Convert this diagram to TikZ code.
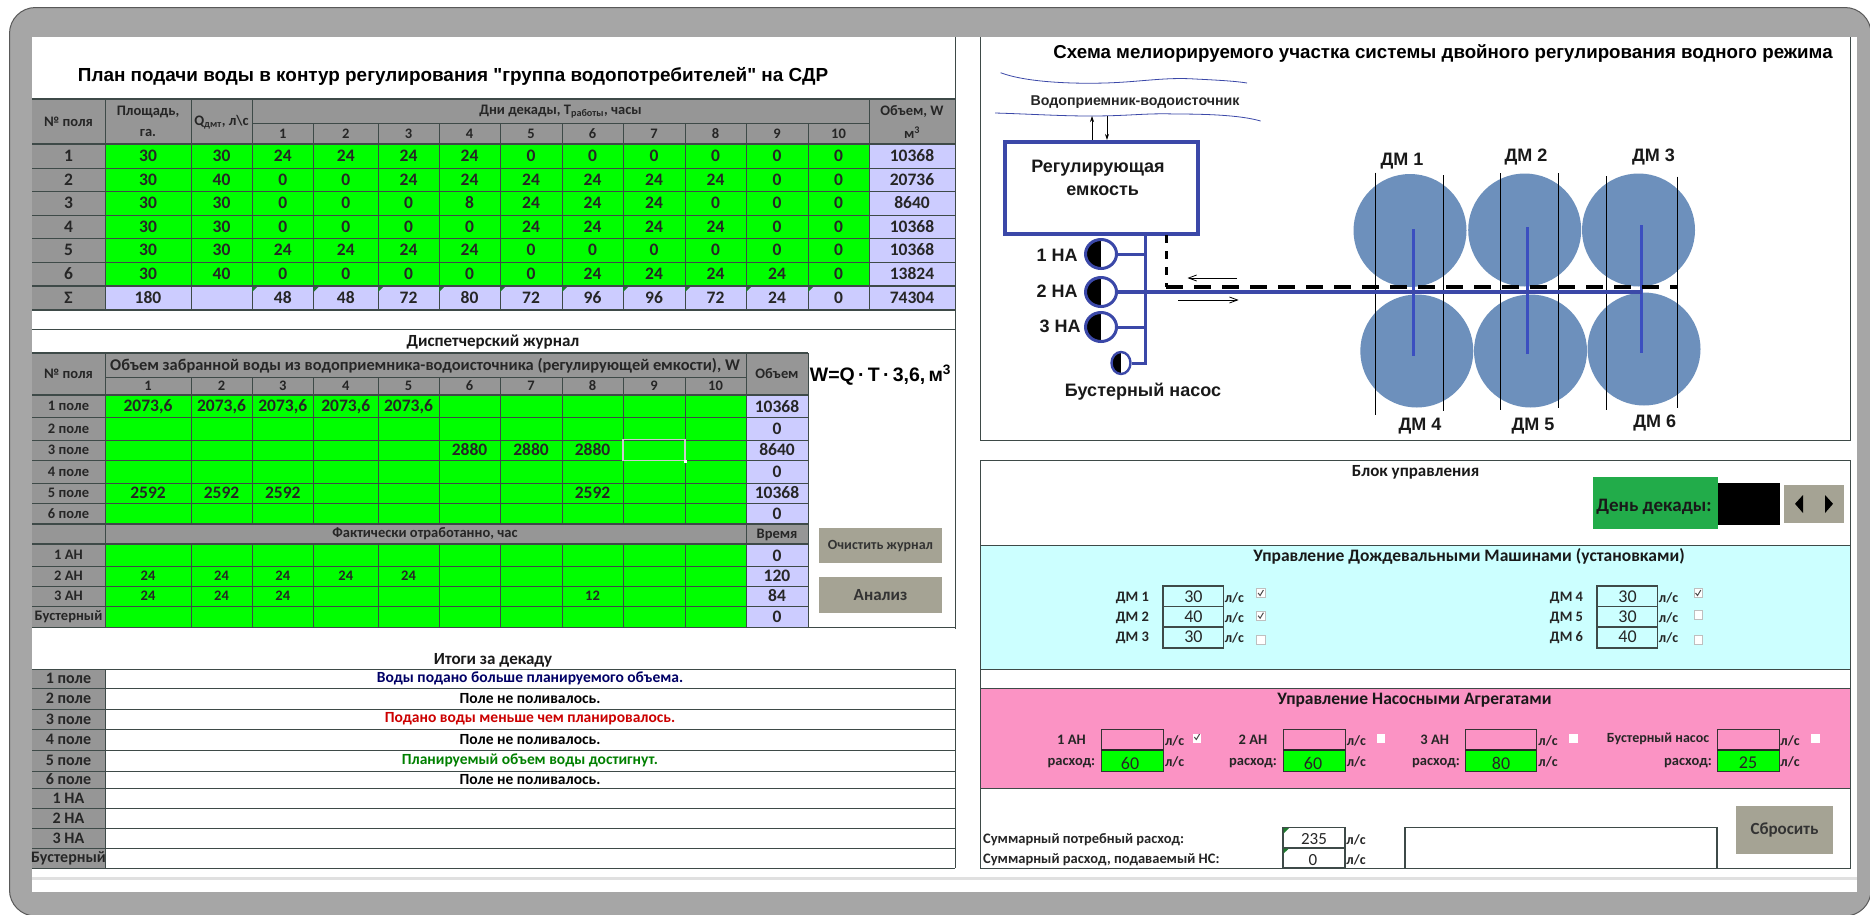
\documentclass[tikz,border=0pt]{standalone}
\usepackage{fontspec}
\setmainfont{Liberation Sans}
\newfontfamily\arq{Liberation Sans}
\newfontfamily\calib{Carlito}
\usetikzlibrary{arrows.meta,shapes.geometric}
\definecolor{frame}{HTML}{A6A6A6}
\definecolor{hdr}{HTML}{969696}
\definecolor{lav}{HTML}{CCCCFF}
\definecolor{grn}{HTML}{00FF00}
\definecolor{gline}{HTML}{3E4A48}
\definecolor{btn}{HTML}{A5A394}
\definecolor{blu}{HTML}{3B48A8}
\definecolor{blu2}{HTML}{3B4FC0}
\definecolor{disc}{HTML}{6D90BC}
\definecolor{cyanbg}{HTML}{CCFFFF}
\definecolor{pinkbg}{HTML}{FB93C4}
\definecolor{okgreen}{HTML}{22AC4A}
\definecolor{tri}{HTML}{1F7A2F}
\newcommand\fsz[1]{\fontsize{#1}{#1}\selectfont}
\tikzset{
  tc/.style={font=\calib\bfseries\fsz{17.5},inner sep=0pt,text=black!85},
  hc/.style={font=\calib\bfseries\fsz{14.5},inner sep=0pt,text=black!85},
  sc/.style={font=\calib\bfseries\fsz{14},inner sep=0pt,text=black!85},
  ar/.style={font=\bfseries\fsz{18},inner sep=0pt,text=black!90},
  capt/.style={font=\calib\bfseries\fsz{17},inner sep=0pt,text=black!90},
  gl/.style={draw=gline,line width=1pt},
  glb/.style={draw=gline,line width=1.8pt},
  pipe/.style={draw=blu,line width=3pt},
  btnbox/.style={fill=btn,draw=none},
  pump/.style={shape=ellipse,draw=blu,line width=3pt,fill=white,inner sep=0pt,minimum width=31pt,minimum height=29pt,
    path picture={\fill[black] (path picture bounding box.south west) rectangle (path picture bounding box.north);}},
  booster/.style={pump,line width=2.4pt,minimum width=19pt,minimum height=22pt},
  wave/.style={draw=blu,line width=.8pt},
  disk/.style={circle,fill=disc,inner sep=0pt,minimum size=113pt},
  chk/.style={fill=white,draw=black!25,line width=.4pt,minimum width=8.5pt,minimum height=9pt,inner sep=0pt},
  inbox/.style={draw=gline,line width=1.1pt},
}
\newcommand\chkmark[2]{\draw[black!70,line width=1pt] (#1-2.5,#2) -- (#1-.5,#2+2.5) -- (#1+2.8,#2-3);}
\begin{document}
\begin{tikzpicture}[x=1pt,y=-1pt]
\useasboundingbox (0,0) rectangle (1870,914);
\fill[white] (0,0) rectangle (1870,914);
\begin{scope}
\clip (0,0) rectangle (1870,914);
\fill[frame,draw=black!65,line width=1pt,rounded corners=26pt] (9.5,7.5) rectangle (1871,916);
\end{scope}
\fill[white] (32,37) rectangle (1857,892);
\fill[black!12] (32,877) rectangle (1857,880);
% ---------- table 1
\node[font=\arq\bfseries\fsz{18.9},inner sep=0pt] (title1) at (453,76) {План подачи воды в контур регулирования "группа водопотребителей" на СДР};
\fill[hdr] (32,99) rectangle (955,144);
\fill[hdr] (32,144) rectangle (105,310);
\fill[grn] (105,144) rectangle (869,286);
\fill[lav] (869,144) rectangle (955,310);
\fill[lav] (105,286) rectangle (869,310);
\foreach \x in {105,191,252,869} \draw[gl] (\x,99) -- (\x,310);
\foreach \x in {313.5,378,439,500,562,623,685,746,808} \draw[gl] (\x,123) -- (\x,310);
\foreach \y in {168,191,215,238,262} \draw[gl] (32,\y) -- (955,\y);
\foreach \y in {99,144,286,310} \draw[glb] (32,\y) -- (955,\y);
\draw[gl] (252,123) -- (869,123);
\def\XA{{68.5,148,221.5,282.75,345.75,408.5,469.5,531,592.5,654,715.5,777,838.5,912}}
\node[hc] (th1) at (68.5,121.5) {№ поля};
\node[hc] (th2) at (148,112) {Площадь,};
\node[hc] (th2b) at (148,133) {га.};
\node[hc] (th3) at (221.5,122) {Q\textsubscript{дмт}, л\textbackslash с};
\node[hc] (th4) at (560.5,111.5) {Дни декады, T\textsubscript{работы}, часы};
\node[hc] (th5) at (912,111.5) {Объем, W};
\node[hc] (th5b) at (912,133) {м\textsuperscript{3}};
\foreach \c in {1,...,10} {
  \pgfmathsetmacro\cx{\XA[\c+2]}
  \node[hc] (td\c) at (\cx,134) {\c};
}
\foreach \r/\yc/\vals in {
 1/156/{30,30,24,24,24,24,0,0,0,0,0,0,10368},
 2/179.5/{30,40,0,0,24,24,24,24,24,24,0,0,20736},
 3/203/{30,30,0,0,0,8,24,24,24,0,0,0,8640},
 4/226.5/{30,30,0,0,0,0,24,24,24,24,0,0,10368},
 5/250/{30,30,24,24,24,24,0,0,0,0,0,0,10368},
 6/274/{30,40,0,0,0,0,0,24,24,24,24,0,13824},
 7/298/{180,,48,48,72,80,72,96,96,72,24,0,74304}} {
  \foreach \v [count=\i] in \vals {
    \pgfmathsetmacro\cx{\XA[\i]}
    \node[tc] (a\r-\i) at (\cx,\yc) {\v};
  }
}
\foreach \r/\yc in {1/156,2/179.5,3/203,4/226.5,5/250,6/274} \node[tc] (aL\r) at (68.5,\yc) {\r};
\node[tc] (aLs) at (68.5,298) {Σ};
\foreach \x in {252,313.5,378,439,500,562,623,685,746,808} \fill[tri] (\x,287) -- (\x+5,287) -- (\x,292) -- cycle;
% ---------- journal
\draw[glb] (32,329.5) -- (955,329.5);
\draw[gl] (955,37) -- (955,629);
\draw[gl] (32,627) -- (955,627);
\node[capt] (title2) at (493,342) {Диспетчерский журнал};
\fill[hdr] (32,353) rectangle (808,395);
\fill[hdr] (32,395) rectangle (105,627);
\fill[grn] (105,395) rectangle (746,524);
\fill[hdr] (105,524) rectangle (808,544);
\fill[grn] (105,544) rectangle (746,627);
\fill[lav] (746,395) rectangle (808,524);
\fill[lav] (746,544) rectangle (808,627);
\foreach \x in {105,746,808} \draw[gl] (\x,353) -- (\x,627);
\foreach \x in {191,252,313.5,378,439,500,562,623,685} {\draw[gl] (\x,377) -- (\x,524); \draw[gl] (\x,544) -- (\x,627);}
\foreach \y in {417,440,460,483,503,566,586,606} \draw[gl] (32,\y) -- (808,\y);
\foreach \y in {353,395,524,544} \draw[glb] (32,\y) -- (808,\y);
\draw[gl] (105,377) -- (746,377);
\draw[draw=black!20,line width=1.6pt] (623,439.5) rectangle (685,460.5);
\fill[white] (684,459.5) rectangle (687,462.5);
\def\XB{{68.5,148,221.5,282.75,345.75,408.5,469.5,531,592.5,654,715.5,777}}
\node[hc] (jh0) at (68.5,374) {№ поля};
\node[hc,font=\calib\bfseries\fsz{16.4}] (jh1) at (425,366) {Объем забранной воды из водоприемника-водоисточника (регулирующей емкости), W};
\node[hc] (jh2) at (777,374) {Объем};
\foreach \c in {1,...,10} {
  \pgfmathsetmacro\cx{\XB[\c]}
  \node[hc] (jd\c) at (\cx,386) {\c};
}
\foreach \r/\yc in {1/406,2/428.5,3/450,4/471.5,5/493,6/513.5} \node[hc] (jl\r) at (68.5,\yc) {\r\ поле};
\foreach \n/\t/\yc in {1/1 АН/555,2/2 АН/576,3/3 АН/596,4/Бустерный/616.5} \node[hc] (jn\n) at (68.5,\yc) {\t};
\node[hc] (jf) at (425,534) {Фактически отработанно, час};
\node[hc] (jt) at (777,535) {Время};
\foreach \c/\v in {1/{2073,6},2/{2073,6},3/{2073,6},4/{2073,6},5/{2073,6}} {
  \pgfmathsetmacro\cx{\XB[\c]}
  \node[tc] (j1-\c) at (\cx,407) {\v};
}
\foreach \c/\v in {6/2880,7/2880,8/2880} {
  \pgfmathsetmacro\cx{\XB[\c]}
  \node[tc] (j3-\c) at (\cx,449.5) {\v};
}
\foreach \c/\v in {1/2592,2/2592,3/2592,8/2592} {
  \pgfmathsetmacro\cx{\XB[\c]}
  \node[tc] (j5-\c) at (\cx,493) {\v};
}
\foreach \c/\v in {1/24,2/24,3/24,4/24,5/24} {
  \pgfmathsetmacro\cx{\XB[\c]}
  \node[hc] (h2-\c) at (\cx,576) {\v};
}
\foreach \c/\v in {1/24,2/24,3/24,8/12} {
  \pgfmathsetmacro\cx{\XB[\c]}
  \node[hc] (h3-\c) at (\cx,596) {\v};
}
\foreach \n/\v/\yc in {1/10368/407,2/0/429,3/8640/450,4/0/472,5/10368/493,6/0/514,7/0/556,8/120/576,9/84/596,10/0/617}
  \node[tc] (jv\n) at (777,\yc) {\v};
\node[font=\bfseries\fsz{19.5},inner sep=0pt] (formula) at (880.5,375) {W=Q\,·\,T\,·\,3,6,\,м\textsuperscript{3}};
\node[btnbox,minimum width=123pt,minimum height=35pt,inner sep=0pt,font=\calib\bfseries\fsz{14},text=black!80] (bclr) at (880.5,545.5) {Очистить журнал};
\node[btnbox,minimum width=123pt,minimum height=36pt,inner sep=0pt,font=\calib\bfseries\fsz{17},text=black!80] (bana) at (880.5,595) {Анализ};
% ---------- results
\node[capt] (title3) at (493,660) {Итоги за декаду};
\fill[hdr] (32,669) rectangle (105,868);
\foreach \y in {669,688,709,729,750,771,788,808,828,848,868} \draw[gl] (32,\y) -- (955,\y);
\draw[gl] (105,669) -- (105,868);
\draw[gl] (955,669) -- (955,868);
\foreach \n/\t/\yc in {1/1 поле/678.5,2/2 поле/698.5,3/3 поле/719,4/4 поле/739.5,5/5 поле/760.5,6/6 поле/779.5,7/1 НА/798,8/2 НА/818,9/3 НА/838,10/Бустерный/858}
  \node[tc,font=\calib\bfseries\fsz{16}] (rl\n) at (68.5,\yc) {\t};
\foreach \n/\t/\col/\yc in {1/Воды подано больше планируемого объема./blue!40!black/678.5,
  2/Поле не поливалось./black/698.5,
  3/Подано воды меньше чем планировалось./red!80!black/719,
  4/Поле не поливалось./black/739.5,
  5/Планируемый объем воды достигнут./green!50!black/760.5,
  6/Поле не поливалось./black/779.5}
  \node[tc,font=\calib\bfseries\fsz{15.5},text=\col] (rt\n) at (530,\yc) {\t};
% ---------- scheme
\draw[gl] (980,37) -- (980,440) -- (1850,440) -- (1850,37);
\node[font=\bfseries\fsz{18.7},inner sep=0pt] (title4) at (1443,53) {Схема мелиорируемого участка системы двойного регулирования водного режима};
\draw[wave] (1000.6,72.7) .. controls (1025,82) and (1070,84) .. (1105,83) .. controls (1140,82) and (1165,77) .. (1195,79) .. controls (1215,80) and (1235,81) .. (1247,83);
\draw[wave] (995,113) .. controls (1030,114) and (1060,116) .. (1090,116) .. controls (1130,116) and (1145,113) .. (1175,114) .. controls (1205,114) and (1240,115) .. (1260.6,121);
\node[font=\bfseries\fsz{14.2},inner sep=0pt,text=black!85] (lsrc) at (1135,102) {Водоприемник-водоисточник};
\node[draw=blu,line width=4.2pt,fill=white,minimum width=193pt,minimum height=92pt,inner sep=0pt] (tank) at (1101.25,188) {};
\node[ar] (tank1) at (1098,168.5) {Регулирующая};
\node[ar] (tank2) at (1102.7,191) {емкость};
\coordinate (srcU) at (1092,116);
\coordinate (srcD) at (1107,116);
\draw[-{Stealth[length=6pt,width=4pt]},line width=.7pt] (tank.north -| srcU) -- (srcU);
\draw[-{Stealth[length=6pt,width=4pt]},line width=.7pt] (srcD) -- (tank.north -| srcD);
% discs
\foreach \n/\x/\y in {1/1410/230.5,2/1524.7/230,3/1638.5/230,4/1416.8/351,5/1530.5/351,6/1644/349}
  \node[disk] (dm\n) at (\x,\y) {};
\foreach \x/\a/\b in {1375.5/172.7/415,1443.5/175/410.7,1500/173/410,1558/173/408,1606/176/410,1677/176.7/407.7}
  \draw[black,line width=.9pt] (\x,\a) -- (\x,\b);
\foreach \x/\a/\b in {1413/229/356,1527/227/354,1641/225/352.7}
  \draw[blu2,line width=3pt] (\x,\a) -- (\x,\b);
% pumps
\node[pump] (p1) at (1101,254) {};
\node[pump] (p2) at (1101,292) {};
\node[pump] (p3) at (1101,327) {};
\node[booster] (p4) at (1121,363) {};
\coordinate (pipeT) at (1145.7,235);
\coordinate (pipeB) at (1145.7,363);
\coordinate (lineEnd) at (1642,292);
\draw[pipe] (tank.south -| pipeT) -- (pipeB) -- (p4.east);
\draw[pipe] (p1.east) -- (p1.east -| pipeT);
\draw[pipe] (p3.east) -- (p3.east -| pipeT);
\draw[blu,line width=3.8pt] (p2.east) -- (lineEnd);
\coordinate (dashT) at (1166,235);
\coordinate (dashC) at (1166,287);
\coordinate (dashE) at (1677,287);
\draw[black,line width=3pt,dash pattern=on 8pt off 8pt] (dashT) -- (dashC);
\draw[black,line width=4pt,dash pattern=on 17pt off 11pt] (dashC) -- (dashE);
\coordinate (a1s) at (1237,278); \coordinate (a1e) at (1187.5,278);
\coordinate (a2s) at (1178,300); \coordinate (a2e) at (1238.6,300);
\draw[-{Straight Barb[length=8pt,width=6pt]},line width=.8pt] (a1s) -- (a1e);
\draw[-{Straight Barb[length=8pt,width=6pt]},line width=.8pt] (a2s) -- (a2e);
\node[ar] (lp1) at (1057,255) {1 НА};
\node[ar] (lp2) at (1057,291.7) {2 НА};
\node[ar] (lp3) at (1060,326.7) {3 НА};
\node[ar] (lp4) at (1143,392) {Бустерный насос};
\foreach \n/\t/\x/\y in {1/ДМ 1/1402/160.7,2/ДМ 2/1526/156.7,3/ДМ 3/1653.5/156.7,4/ДМ 4/1420/425.7,5/ДМ 5/1533/425.7,6/ДМ 6/1654.7/422.7}
  \node[ar] (ldm\n) at (\x,\y) {\t};
% ---------- control block
\fill[cyanbg] (980,545) rectangle (1850,669);
\fill[pinkbg] (980,688) rectangle (1850,788);
\draw[gl] (980,460) rectangle (1850,868);
\foreach \y in {545,669,688,788} \draw[gl] (980,\y) -- (1850,\y);
\node[capt] (title5) at (1415.6,472.7) {Блок управления};
\fill[okgreen] (1592.6,476.7) rectangle (1718,529);
\node[capt,font=\calib\bfseries\fsz{19}] (lday) at (1654,506.7) {День декады:};
\fill[black] (1718,482.7) rectangle (1780,525);
\node[btnbox,minimum width=29.5pt,minimum height=37.5pt,inner sep=0pt] (spinL) at (1799,503.8) {};
\node[btnbox,minimum width=29.5pt,minimum height=37.5pt,inner sep=0pt] (spinR) at (1829,503.8) {};
\fill[black] (1795,503.8) -- (1803,495) -- (1803,513) -- cycle;
\fill[black] (1833,503.8) -- (1825,495) -- (1825,513) -- cycle;
\node[capt,font=\calib\fsz{17.5}\bfseries] (title6) at (1469,556.7) {Управление Дождевальными Машинами (установками)};
\foreach \x in {1163,1597} {
  \draw[inbox] (\x,586) rectangle (\x+60.5,648);
  \draw[inbox] (\x,606.7) -- (\x+60.5,606.7);
  \draw[inbox] (\x,627) -- (\x+60.5,627);
}
\foreach \n/\t/\v/\x/\y in {1/ДМ 1/30/1132.4/597,2/ДМ 2/40/1132.4/617,3/ДМ 3/30/1132.4/637,4/ДМ 4/30/1566.5/597,5/ДМ 5/30/1566.5/617,6/ДМ 6/40/1566.5/637} {
  \node[hc] (cl\n) at (\x,\y+1) {\t};
  \node[tc,font=\calib\fsz{18}] (cv\n) at (\x+61,\y) {\v};
  \node[sc] (cu\n) at (\x+102,\y+1) {л/с};
}
\foreach \n/\x/\y in {1/1260.6/593,2/1260.6/615.7,3/1260.6/640,4/1698/593,5/1698/615,6/1698/640}
  \node[chk] (cb\n) at (\x,\y) {};
\chkmark{1260.6}{593}\chkmark{1260.6}{615.7}\chkmark{1698}{593}
\node[capt,font=\calib\fsz{17.5}\bfseries] (title7) at (1414.4,700) {Управление Насосными Агрегатами};
\foreach \n/\a/\b in {1/1101/1163,2/1283/1345,3/1465/1536,4/1717/1779.5} {
  \fill[grn] (\a,750) rectangle (\b,771.7);
  \draw[draw=black!80,line width=1pt] (\a,729) rectangle (\b,771.7);
  \draw[draw=black!85,line width=1.6pt] (\a,750) -- (\b,750);
}
\foreach \n/\t/\x in {1/1 АН/1071.4,2/2 АН/1253,3/3 АН/1434.7} \node[hc] (pl\n) at (\x,740) {\t};
\node[sc] (pl4) at (1658,739) {Бустерный насос};
\foreach \n/\x in {1/1071.4,2/1253,3/1436,4/1688} \node[hc] (pr\n) at (\x,763) {расход:};
\foreach \n/\v/\x in {1/60/1130,2/60/1313,3/80/1501,4/25/1748} \node[tc,font=\calib\fsz{18}] (pv\n) at (\x,763) {\v};
\foreach \n/\x in {1/1174.7,2/1356.4,3/1548,4/1790} {
  \node[sc] (pu\n) at (\x,741) {л/с};
  \node[sc] (pw\n) at (\x,762) {л/с};
}
\foreach \n/\x in {1/1196.8,2/1381,3/1573.5,4/1815.5} \node[chk,draw=none] (pc\n) at (\x,738) {};
\chkmark{1196.8}{737}
\node[hc,anchor=west] (sum1) at (983,840) {Суммарный потребный расход:};
\node[hc,anchor=west] (sum2) at (983,860) {Суммарный расход, подаваемый НС:};
\fill[white] (1283,827.7) rectangle (1345,868);
\draw[inbox] (1283,827.7) rectangle (1345,868);
\draw[inbox] (1283,848) -- (1345,848);
\fill[tri] (1283.5,828.2) -- (1289,828.2) -- (1283.5,833.5) -- cycle;
\fill[tri] (1283.5,848.5) -- (1289,848.5) -- (1283.5,853.5) -- cycle;
\node[tc,font=\calib\fsz{17}] (sv1) at (1314,839) {235};
\node[tc,font=\calib\fsz{17}] (sv2) at (1313,860) {0};
\node[sc] (su1) at (1356,840) {л/с};
\node[sc] (su2) at (1356,860) {л/с};
\draw[inbox] (1405,868) |- (1717,827.7) -- (1717,868);
\node[btnbox,minimum width=97pt,minimum height=48pt,inner sep=0pt,font=\calib\bfseries\fsz{17},text=black!80] (brst) at (1784.5,830) {Сбросить};
\end{tikzpicture}
\end{document}
